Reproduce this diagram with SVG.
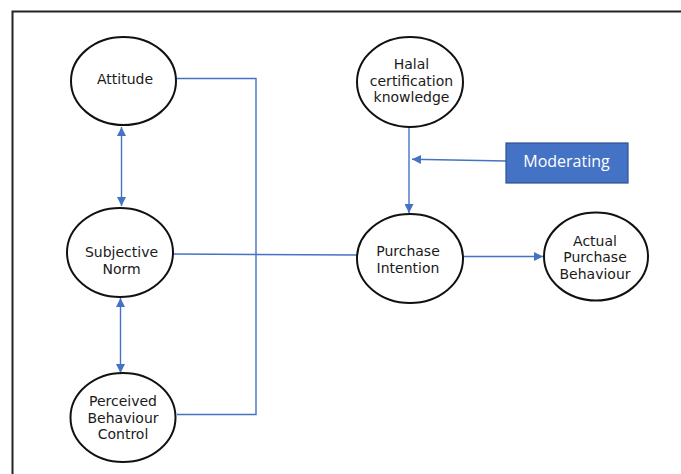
<svg xmlns="http://www.w3.org/2000/svg" width="681" height="474" viewBox="0 0 681 474">
  <defs>
    <marker id="head" viewBox="0 0 10 10" refX="10" refY="5" markerWidth="9" markerHeight="9" markerUnits="userSpaceOnUse" orient="auto-start-reverse">
      <path d="M0,0 L10,5 L0,10 Z" fill="#4472C4"/>
    </marker>
    <style>
      .node ellipse { fill: #ffffff; stroke: #111111; stroke-width: 2; }
      .node text { font-family: "DejaVu Sans", "Open Sans", sans-serif; font-size: 14px; fill: #1a1a1a; text-anchor: middle; }
      .conn { fill: none; stroke: #4472C4; stroke-width: 1.4; }
      .frame { fill: none; stroke: #222222; stroke-width: 2; }
      .box rect { fill: #4472C4; stroke: #2F528F; stroke-width: 1.2; }
      .box text { font-family: "Open Sans", "Noto Sans", sans-serif; font-size: 16px; fill: #ffffff; text-anchor: middle; }
    </style>
  </defs>

  <rect width="681" height="474" fill="#ffffff"/>
  <!-- page frame -->
  <path class="frame" d="M12.5,474 V11.5 H681"/>

  <!-- connectors -->
  <g id="connectors">
    <!-- attitude / PBC bracket -->
    <path class="conn" d="M176,78.5 H256 V414.5 H177"/>
    <!-- subjective norm to purchase intention -->
    <path class="conn" d="M173,254 L358,255"/>
    <!-- attitude <-> subjective norm -->
    <line class="conn" x1="121.5" y1="127" x2="121.5" y2="206" marker-start="url(#head)" marker-end="url(#head)"/>
    <!-- subjective norm <-> perceived behaviour control -->
    <line class="conn" x1="120.5" y1="298" x2="120.5" y2="373" marker-start="url(#head)" marker-end="url(#head)"/>
    <!-- halal knowledge to purchase intention -->
    <line class="conn" x1="409" y1="127" x2="409" y2="213" marker-end="url(#head)"/>
    <!-- moderating effect -->
    <line class="conn" x1="506" y1="161" x2="412" y2="159.3" marker-end="url(#head)"/>
    <!-- purchase intention to actual behaviour -->
    <line class="conn" x1="463" y1="256.5" x2="543" y2="256.5" marker-end="url(#head)"/>
  </g>

  <g id="attitude" class="node">
    <ellipse cx="123.5" cy="81" rx="52.5" ry="44"/>
    <text x="125" y="83.5">Attitude</text>
  </g>

  <g id="subjective-norm" class="node">
    <ellipse cx="120" cy="252.5" rx="53" ry="44.5"/>
    <text x="121.5" y="256.5">Subjective</text>
    <text x="121.5" y="273.5">Norm</text>
  </g>

  <g id="perceived-behaviour-control" class="node">
    <ellipse cx="123" cy="417.5" rx="52.5" ry="44.5"/>
    <text x="123" y="406">Perceived</text>
    <text x="123" y="422.5">Behaviour</text>
    <text x="123" y="439">Control</text>
  </g>

  <g id="halal-knowledge" class="node">
    <ellipse cx="410" cy="82" rx="53" ry="45"/>
    <text x="411.5" y="69">Halal</text>
    <text x="411.5" y="85.5">certification</text>
    <text x="411.5" y="102">knowledge</text>
  </g>

  <g id="purchase-intention" class="node">
    <ellipse cx="410" cy="258.5" rx="53" ry="44.5"/>
    <text x="408" y="256">Purchase</text>
    <text x="408" y="272.5">Intention</text>
  </g>

  <g id="actual-behaviour" class="node">
    <ellipse cx="596" cy="256.5" rx="52" ry="44"/>
    <text x="595" y="245.5">Actual</text>
    <text x="595" y="262">Purchase</text>
    <text x="595" y="278.5">Behaviour</text>
  </g>

  <g id="moderating" class="box">
    <rect x="506" y="143" width="122" height="40"/>
    <text x="566.5" y="166.5">Moderating</text>
  </g>
</svg>
